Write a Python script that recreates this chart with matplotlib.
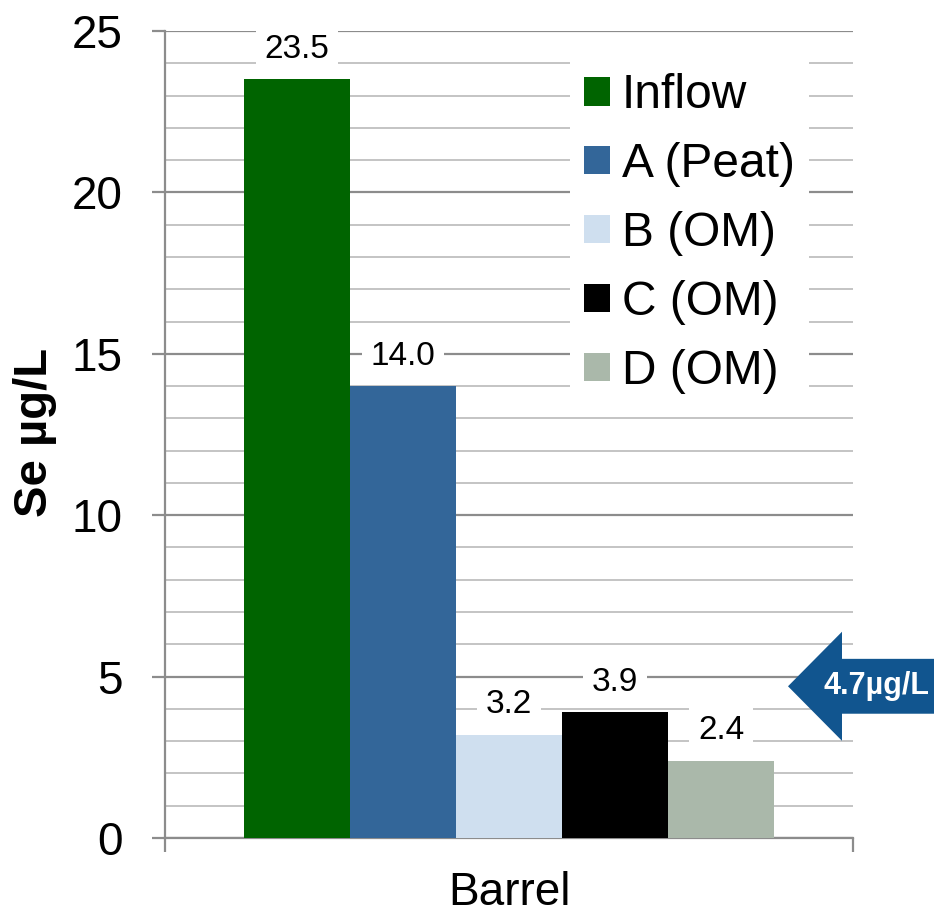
import matplotlib
matplotlib.use("Agg")
import matplotlib.pyplot as plt
from matplotlib.patches import Polygon
from matplotlib.transforms import blended_transform_factory

plt.rcParams["font.family"] = ["Liberation Sans", "DejaVu Sans"]

barrels = ["Inflow", "A (Peat)", "B (OM)", "C (OM)", "D (OM)"]
se_ugl = [23.5, 14.0, 3.2, 3.9, 2.4]
colors = ["#006400", "#336699", "#cfdfef", "#000000", "#aab8aa"]
se_limit = 4.7
x_label = "Barrel"
y_label = "Se µg/L"

fig = plt.figure(figsize=(9.34, 9.14), dpi=100)
ax = fig.add_axes([165 / 934, 76 / 914, 688 / 934, 807 / 914])

# one category, five adjacent bars centred on it
width = 106 / 688
for i, (name, val, c) in enumerate(zip(barrels, se_ugl, colors)):
    x = 0.5 + (i - 2) * width
    ax.bar(x, val, width=width, color=c, label=name, zorder=3)
    ax.annotate(f"{val:.1f}", (x, val), xytext=(0, 21.5), textcoords="offset points",
                ha="center", va="center", fontsize=24, zorder=4,
                bbox=dict(boxstyle="square,pad=0.26", fc="white", ec="none"))

ax.set_xlim(0, 1)
ax.set_ylim(0, 25)
ax.set_yticks(range(0, 26, 5))
ax.set_yticks(range(0, 26), minor=True)
ax.set_xticks([0, 1])
ax.set_xticklabels([])
ax.grid(axis="y", which="major", color="#8c8c8c", lw=1.6, zorder=0)
ax.grid(axis="y", which="minor", color="#c4c4c4", lw=1.4, zorder=0)
ax.tick_params(axis="y", which="major", length=9.4, width=1.6, color="#8c8c8c",
               labelsize=33, pad=21)
ax.tick_params(axis="y", which="minor", length=0)
ax.tick_params(axis="x", length=10, width=1.6, color="#8c8c8c")
for s in ("top", "right"):
    ax.spines[s].set_visible(False)
for s in ("left", "bottom"):
    ax.spines[s].set_color("#8c8c8c")
    ax.spines[s].set_linewidth(1.6)

ax.set_xlabel(x_label, fontsize=33)
ax.xaxis.set_label_coords(0.5, -55 / 807)
ax.xaxis.label.set_va("center")
ax.set_ylabel(y_label, fontsize=34, fontweight="bold")
ax.yaxis.set_label_coords(-130 / 688, 0.503)
ax.yaxis.label.set_va("center")

leg = ax.legend(loc="upper left", bbox_to_anchor=(570 / 934, 1 - 59 / 914),
                bbox_transform=fig.transFigure, fontsize=34.5, frameon=True,
                fancybox=False, edgecolor="none", facecolor="white", framealpha=1,
                handlelength=0.53, handleheight=0.53, handletextpad=0.25,
                labelspacing=0.5, borderpad=0.3, borderaxespad=0)
leg.set_zorder(5)

# arrow marking the Se limit, running off the right edge of the figure
tr = blended_transform_factory(fig.transFigure, ax.transData)
head_h, body_h = 1.69, 0.85
tip, neck = 788 / 934, 842 / 934
arrow = Polygon([(tip, se_limit), (neck, se_limit + head_h), (neck, se_limit + body_h),
                 (1.02, se_limit + body_h), (1.02, se_limit - body_h),
                 (neck, se_limit - body_h), (neck, se_limit - head_h)],
                closed=True, transform=tr, fc="#11558f", ec="none", clip_on=False, zorder=6)
ax.add_patch(arrow)
ax.text(823 / 934, se_limit, f"{se_limit}µg/L", transform=tr, color="white",
        fontsize=22, fontweight="bold", ha="left", va="center", zorder=7, clip_on=False)

fig.savefig("out.png", dpi=100)
